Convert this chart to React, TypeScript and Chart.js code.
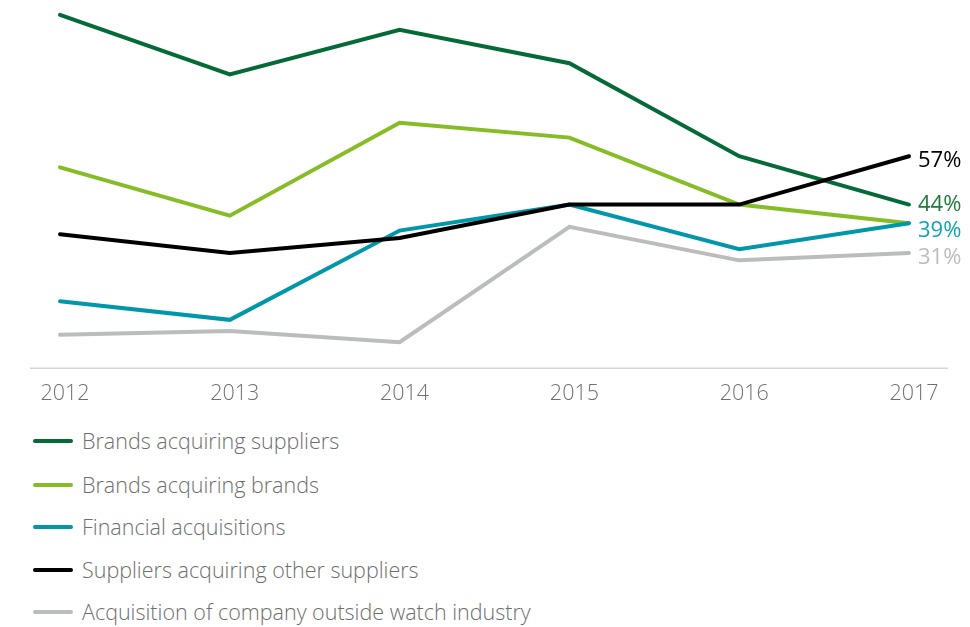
import React, { useEffect, useRef } from "react";
import { Chart, registerables } from "chart.js";

Chart.register(...registerables);

const years = ["2012", "2013", "2014", "2015", "2016", "2017"];

const seriesNames = [
  "Brands acquiring suppliers",
  "Brands acquiring brands",
  "Financial acquisitions",
  "Suppliers acquiring other suppliers",
  "Acquisition of company outside watch industry",
];

const brandsSuppliers = [95, 79, 91, 82, 57, 44];
const brandsBrands = [54, 41, 66, 62, 44, 39];
const financial = [18, 13, 37, 44, 32, 39];
const suppliersSuppliers = [36, 31, 35, 44, 44, 57];
const outsideIndustry = [9, 10, 7, 38, 29, 31];

const seriesValues = [brandsSuppliers, brandsBrands, financial, suppliersSuppliers, outsideIndustry];
const seriesColors = ["#046A38", "#86BC25", "#0097A9", "#000000", "#BBBCBC"];
const seriesOrder = [2, 3, 1, 0, 4];

// end labels: text, value, colour, vertical nudge
const endLabelTexts = ["57%", "44%", "39%", "31%"];
const endLabelValues = [57, 44, 39, 31];
const endLabelColors = ["#000000", "#1E7B3A", "#0CA3B5", "#BBBCBC"];
const endLabelNudge = [5, 0, 8, 5];

const legendRowY = [441, 485, 527, 570, 612];

const FONT = "'Open Sans', 'Noto Sans', sans-serif";

const endLabelPlugin = {
  id: "endLabels",
  afterDatasetsDraw(chart: any) {
    const { ctx, scales } = chart;
    const xs = scales.x;
    const ys = scales.y;
    ctx.save();
    // axis line
    ctx.strokeStyle = "#D6D6D6";
    ctx.lineWidth = 1.5;
    ctx.beginPath();
    const yb = ys.getPixelForValue(0);
    ctx.moveTo(30, yb);
    ctx.lineTo(948, yb);
    ctx.stroke();
    ctx.font = `400 22px ${FONT}`;
    ctx.textBaseline = "middle";
    ctx.textAlign = "left";
    const x = xs.getPixelForValue(years.length - 1) + 9;
    endLabelTexts.forEach((t, i) => {
      ctx.fillStyle = endLabelColors[i];
      ctx.fillText(t, x, ys.getPixelForValue(endLabelValues[i]) + endLabelNudge[i]);
    });
    ctx.restore();
  },
};

export default function App() {
  const ref = useRef<HTMLCanvasElement>(null);

  useEffect(() => {
    document.body.style.margin = "0";
    if (!ref.current) return;
    const chart = new Chart(ref.current, {
      type: "line",
      data: {
        labels: years,
        datasets: seriesNames.map((name, i) => ({
          label: name,
          data: seriesValues[i],
          borderColor: seriesColors[i],
          backgroundColor: seriesColors[i],
          borderWidth: 4,
          pointRadius: 0,
          tension: 0,
          fill: false,
          clip: false as any,
          order: seriesOrder[i],
          borderCapStyle: "round" as const,
          borderJoinStyle: "miter" as const,
        })),
      },
      options: {
        animation: false,
        responsive: false,
        maintainAspectRatio: false,
        layout: { padding: { left: 60, right: 61, top: 0, bottom: 0 } },
        plugins: {
          legend: { display: false },
          tooltip: { enabled: false },
        },
        scales: {
          x: {
            type: "category",
            offset: false,
            grid: { display: false, drawTicks: false },
            border: { display: false },
            ticks: {
              color: "#707070",
              padding: 13,
              labelOffset: 5,
              font: { family: FONT, size: 21.5, weight: "300" as any },
              maxRotation: 0,
            },
          },
          y: {
            display: false,
            min: 0,
            max: 99,
          },
        },
      },
      plugins: [endLabelPlugin],
    });
    return () => chart.destroy();
  }, []);

  return (
    <div style={{ position: "relative", width: 970, height: 627, background: "#fff", fontFamily: FONT }}>
      <canvas ref={ref} width={970} height={420} style={{ position: "absolute", left: 0, top: 0, width: 970, height: 420 }} />
      {seriesNames.map((name, i) => (
        <div
          key={name}
          style={{
            position: "absolute",
            left: 33,
            top: legendRowY[i] - 15,
            height: 30,
            display: "flex",
            alignItems: "center",
            whiteSpace: "nowrap",
          }}
        >
          <span style={{ display: "inline-block", width: 40, height: 4, borderRadius: 2, background: seriesColors[i], marginRight: 9 }} />
          <span style={{ fontSize: 21.5, fontWeight: 300, color: "#6E6E6E", lineHeight: "30px" }}>{name}</span>
        </div>
      ))}
    </div>
  );
}
